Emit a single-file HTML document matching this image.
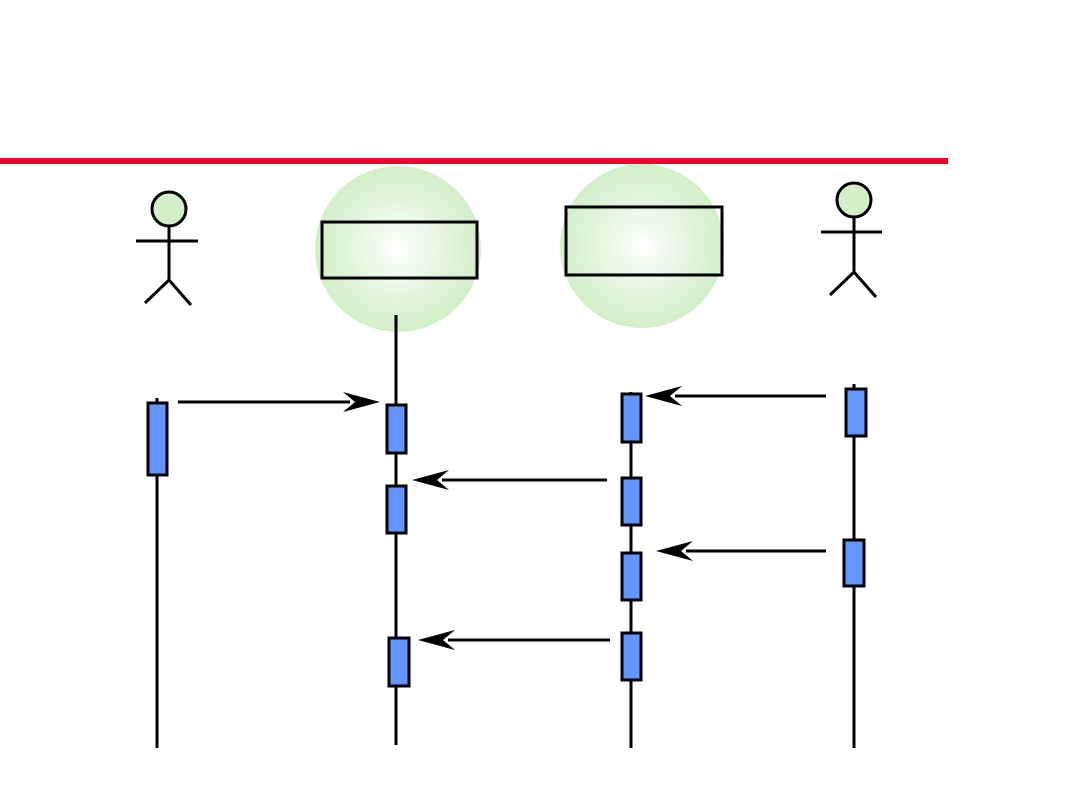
<!DOCTYPE html>
<html><head><meta charset="utf-8"><style>body{margin:0;background:#fff}svg{display:block}</style></head><body>
<svg width="1080" height="810" viewBox="0 0 1080 810" xmlns="http://www.w3.org/2000/svg">
<defs>
<radialGradient id="g"><stop offset="0" stop-color="#ffffff"/><stop offset="0.7" stop-color="#dff2d8"/><stop offset="1" stop-color="#d2efc8"/></radialGradient>
</defs>
<rect x="0" y="158" width="948" height="6" fill="#f0002a"/>
<g stroke="#000" stroke-width="3" fill="none">
<circle cx="169" cy="209" r="17" fill="#d2efc8"/>
<line x1="136" y1="241" x2="198" y2="241"/><line x1="169" y1="226" x2="169" y2="280"/>
<polyline points="145,303 169,280 191,305"/>
<circle cx="854" cy="200" r="17" fill="#d2efc8"/>
<line x1="821" y1="232" x2="882" y2="232"/><line x1="854" y1="217" x2="854" y2="272"/>
<polyline points="830,295 854,272 876,297"/>
</g>
<circle cx="398" cy="249" r="83" fill="url(#g)"/>
<circle cx="642" cy="246" r="82" fill="url(#g)"/>
<g stroke="#000" stroke-width="3" fill="none">
<rect x="322" y="222" width="155" height="56"/>
<rect x="566" y="207" width="156" height="68"/>
<line x1="157" y1="398" x2="157" y2="748"/>
<line x1="396" y1="315" x2="396" y2="745"/>
<line x1="631" y1="392" x2="631" y2="748"/>
<line x1="854" y1="384" x2="854" y2="748"/>
<line x1="178" y1="402" x2="350" y2="402"/>
<line x1="826" y1="396" x2="675" y2="396"/>
<line x1="607" y1="480" x2="442" y2="480"/>
<line x1="826" y1="551" x2="686" y2="551"/>
<line x1="610" y1="640" x2="448" y2="640"/>
</g>
<g fill="#000">
<polygon points="380,402 343,392 355,402 343,412"/>
<polygon points="645,396 682,386 670,396 682,406"/>
<polygon points="412,480 449,470 437,480 449,490"/>
<polygon points="656,551 693,541 681,551 693,561"/>
<polygon points="418,640 455,630 443,640 455,650"/>
</g>
<g fill="#6395ff" stroke="#000" stroke-width="3">
<rect x="148" y="403" width="19" height="72"/>
<rect x="387" y="405" width="19" height="48"/>
<rect x="387" y="486" width="19" height="47"/>
<rect x="389" y="638" width="20" height="48"/>
<rect x="622" y="394" width="19" height="48"/>
<rect x="622" y="478" width="19" height="47"/>
<rect x="622" y="553" width="19" height="47"/>
<rect x="622" y="633" width="19" height="47"/>
<rect x="846" y="389" width="20" height="47"/>
<rect x="844" y="540" width="20" height="46"/>
</g>
</svg>
</body></html>
